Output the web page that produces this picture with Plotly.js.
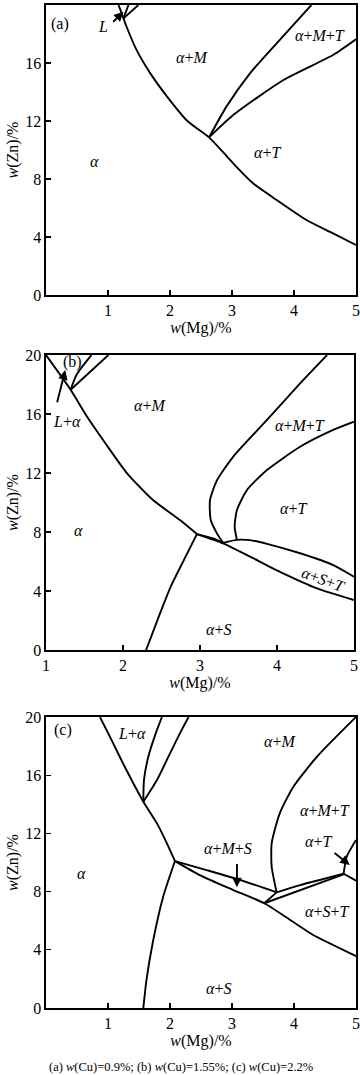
<!DOCTYPE html>
<html><head><meta charset="utf-8">
<script src="https://cdn.plot.ly/plotly-3.0.1.min.js"></script>
<style>html,body{margin:0;padding:0;background:#fff}</style>
</head><body><div id="chart" style="width:360px;height:1075px"></div>
<script>
// ---- Panel (a): w(Cu)=0.9% ----
var a_alpha_x = [1.17, 1.25, 1.30, 1.46, 1.68, 1.95, 2.28, 2.63, 2.91, 3.08, 3.34, 3.72, 4.20, 4.63, 5.0];
var a_alpha_y = [20, 19.08, 18.5, 16.9, 15.3, 13.7, 12.0, 10.87, 9.6, 8.8, 7.70, 6.55, 5.17, 4.25, 3.45];
var a_mt_x = [2.63, 2.91, 3.29, 3.72, 4.28];
var a_mt_y = [10.87, 12.99, 15.29, 17.36, 20];
var a_t_x = [2.63, 3.02, 3.83, 4.63, 5.0];
var a_t_y = [10.87, 12.41, 14.83, 16.55, 17.63];
var a_top1_x = [1.25, 1.33];
var a_top1_y = [19.08, 20];
var a_top2_x = [1.25, 1.49];
var a_top2_y = [19.08, 20];

// ---- Panel (b): w(Cu)=1.55% ----
var b_alpha_x = [1.0, 1.32, 1.53, 1.78, 2.05, 2.39, 2.74, 2.96];
var b_alpha_y = [20, 17.65, 15.85, 13.95, 12.0, 10.17, 8.81, 7.86];
var b_low_x = [2.96, 3.30, 3.65, 4.08, 4.52, 5.0];
var b_low_y = [7.86, 7.23, 6.33, 5.20, 4.18, 3.39];
var b_sliver_x = [2.96, 3.17, 3.30];
var b_sliver_y = [7.86, 7.57, 7.27];
var b_s_x = [2.96, 2.80, 2.62, 2.46, 2.30];
var b_s_y = [7.86, 6.2, 4.3, 2.2, 0];
var b_mt_x = [4.65, 4.30, 3.87, 3.43, 3.22, 3.13, 3.14, 3.22, 3.30];
var b_mt_y = [20, 18.08, 15.6, 13.1, 11.5, 10.17, 8.81, 7.91, 7.27];
var b_t_x = [5.0, 4.73, 4.30, 3.87, 3.61, 3.48, 3.45, 3.48];
var b_t_y = [15.48, 14.92, 13.78, 12.2, 10.85, 9.49, 8.36, 7.47];
var b_st_x = [3.30, 3.48, 3.65, 3.87, 4.30, 4.73, 5.0];
var b_st_y = [7.27, 7.47, 7.45, 7.2, 6.56, 5.76, 4.97];
var b_top1_x = [1.32, 1.40, 1.59];
var b_top1_y = [17.65, 18.7, 20];
var b_top2_x = [1.32, 1.81];
var b_top2_y = [17.65, 20];

// ---- Panel (c): w(Cu)=2.2% ----
var c_alpha_x = [0.87, 1.03, 1.27, 1.57, 1.79, 1.95, 2.08];
var c_alpha_y = [20, 18.65, 16.58, 14.18, 12.69, 11.32, 10.1];
var c_low_x = [2.08, 2.48, 3.02, 3.52, 3.94, 4.31, 4.63, 5.0];
var c_low_y = [10.1, 9.14, 8.11, 7.2, 6.05, 5.02, 4.33, 3.57];
var c_up_x = [2.08, 2.59, 3.13, 3.72];
var c_up_y = [10.1, 9.48, 8.80, 7.95];
var c_s_x = [2.08, 1.89, 1.73, 1.62, 1.57];
var c_s_y = [10.1, 7.65, 4.67, 1.92, 0];
var c_mt_x = [5.0, 4.37, 3.99, 3.77, 3.64, 3.64, 3.72];
var c_mt_y = [20, 17.27, 15.21, 13.38, 11.32, 9.71, 7.95];
var c_ab_x = [3.52, 3.72];
var c_ab_y = [7.2, 7.95];
var c_ac_x = [3.72, 4.10, 4.80];
var c_ac_y = [7.95, 8.45, 9.23];
var c_bc_x = [3.52, 4.80];
var c_bc_y = [7.2, 9.18];
var c_cr_x = [4.80, 5.0];
var c_cr_y = [9.23, 8.75];
var c_cu_x = [4.80, 4.85, 5.0];
var c_cu_y = [9.23, 10.4, 11.55];
var c_top1_x = [1.57, 1.58, 1.65, 1.76, 1.87];
var c_top1_y = [14.18, 15.67, 17.27, 18.76, 20];
var c_top2_x = [1.57, 1.79, 2.0, 2.16, 2.30];
var c_top2_y = [14.18, 15.67, 17.5, 18.88, 20];

// tick labels
var xTicksA = [0, 1, 2, 3, 4, 5];
var xTextA = ['', '1', '2', '3', '4', '5'];
var xTicksB = [1, 2, 3, 4, 5];
var xTextB = ['1', '2', '3', '4', '5'];
var yTicks = [0, 4, 8, 12, 16, 20];
var yText = ['0', '4', '8', '12', '16', '20'];

var FONT = 'Liberation Serif';
var traces = [];
function line(x, y, ax, smooth) {
  traces.push({
    type: 'scatter', mode: 'lines', x: x, y: y,
    xaxis: ax === 1 ? 'x' : 'x' + ax, yaxis: ax === 1 ? 'y' : 'y' + ax,
    line: {color: '#000', width: 1.9, shape: smooth ? 'spline' : 'linear', smoothing: 0.6},
    hoverinfo: 'skip', showlegend: false
  });
}
line(a_alpha_x, a_alpha_y, 1, true);
line(a_mt_x, a_mt_y, 1, true);
line(a_t_x, a_t_y, 1, true);
line(a_top1_x, a_top1_y, 1, false);
line(a_top2_x, a_top2_y, 1, false);

line(b_alpha_x, b_alpha_y, 2, true);
line(b_low_x, b_low_y, 2, true);
line(b_sliver_x, b_sliver_y, 2, true);
line(b_s_x, b_s_y, 2, true);
line(b_mt_x, b_mt_y, 2, true);
line(b_t_x, b_t_y, 2, true);
line(b_st_x, b_st_y, 2, true);
line(b_top1_x, b_top1_y, 2, true);
line(b_top2_x, b_top2_y, 2, false);

line(c_alpha_x, c_alpha_y, 3, true);
line(c_low_x, c_low_y, 3, true);
line(c_up_x, c_up_y, 3, true);
line(c_s_x, c_s_y, 3, true);
line(c_mt_x, c_mt_y, 3, true);
line(c_ab_x, c_ab_y, 3, false);
line(c_ac_x, c_ac_y, 3, true);
line(c_bc_x, c_bc_y, 3, false);
line(c_cr_x, c_cr_y, 3, false);
line(c_cu_x, c_cu_y, 3, true);
line(c_top1_x, c_top1_y, 3, true);
line(c_top2_x, c_top2_y, 3, true);

function axis(range, tv, tt, dom, anchor, title) {
  var o = {
    range: range, domain: dom, anchor: anchor, tickvals: tv, ticktext: tt,
    showline: true, mirror: true, linecolor: '#000', linewidth: 1.6,
    ticks: 'inside', ticklen: 5, tickcolor: '#000', tickwidth: 1.3,
    showgrid: false, zeroline: false, fixedrange: true,
    tickfont: {family: FONT, size: 16, color: '#000'}
  };
  if (title) o.title = {text: title, font: {family: FONT, size: 16, color: '#000'}, standoff: 2};
  return o;
}
var XT = '<i>w</i>(Mg)/%', YT = '<i>w</i>(Zn)/%';

function lab(txt, x, y, ax, extra) {
  var o = {text: txt, x: x, y: y, xref: ax === 1 ? 'x' : 'x' + ax, yref: ax === 1 ? 'y' : 'y' + ax,
    showarrow: false, font: {family: FONT, size: 16, color: '#000'}};
  if (extra) for (var k in extra) o[k] = extra[k];
  return o;
}
function arrow(x0, y0, x1, y1, ax) {
  var xr = ax === 1 ? 'x' : 'x' + ax, yr = ax === 1 ? 'y' : 'y' + ax;
  return {x: x1, y: y1, ax: x0, ay: y0, xref: xr, yref: yr, axref: xr, ayref: yr,
    text: '', showarrow: true, arrowhead: 2, arrowsize: 1, arrowwidth: 1.9, arrowcolor: '#000'};
}

var annotations = [
  lab('(a)', 0.23, 18.7, 1),
  lab('<i>L</i>', 0.92, 18.55, 1),
  lab('<i>α</i>+<i>M</i>', 2.35, 16.4, 1),
  lab('<i>α</i>+<i>M</i>+<i>T</i>', 4.42, 17.9, 1),
  lab('<i>α</i>+<i>T</i>', 3.58, 9.8, 1),
  lab('<i>α</i>', 0.79, 9.2, 1),
  arrow(1.06, 18.74, 1.25, 19.54, 1),

  lab('(b)', 1.34, 19.5, 2),
  lab('<i>L</i>+<i>α</i>', 1.27, 15.5, 2),
  lab('<i>α</i>+<i>M</i>', 2.35, 16.6, 2),
  lab('<i>α</i>+<i>M</i>+<i>T</i>', 4.30, 15.25, 2),
  lab('<i>α</i>+<i>T</i>', 4.21, 9.6, 2),
  lab('<i>α</i>', 1.42, 8.1, 2),
  lab('<i>α</i>+<i>S</i>+<i>T</i>', 4.60, 4.75, 2, {textangle: 20}),
  lab('<i>α</i>+<i>S</i>', 3.24, 1.36, 2),
  arrow(1.14, 16.7, 1.25, 18.98, 2),

  lab('(c)', 0.28, 19.1, 3),
  lab('<i>L</i>+<i>α</i>', 1.38, 18.9, 3),
  lab('<i>α</i>+<i>M</i>', 3.77, 18.3, 3),
  lab('<i>α</i>+<i>M</i>+<i>T</i>', 4.5, 13.6, 3),
  lab('<i>α</i>+<i>T</i>', 4.39, 11.43, 3),
  lab('<i>α</i>+<i>M</i>+<i>S</i>', 2.94, 10.97, 3),
  lab('<i>α</i>', 0.58, 9.26, 3),
  lab('<i>α</i>+<i>S</i>+<i>T</i>', 4.53, 6.62, 3),
  lab('<i>α</i>+<i>S</i>', 2.78, 1.35, 3),
  arrow(3.08, 10.0, 3.08, 8.3, 3),
  arrow(4.63, 10.74, 4.90, 9.83, 3),

  {text: '(a) <i>w</i>(Cu)=0.9%; (b) <i>w</i>(Cu)=1.55%; (c) <i>w</i>(Cu)=2.2%',
   xref: 'paper', yref: 'paper', x: 0.435, y: -0.0588, xanchor: 'center', yanchor: 'middle',
   showarrow: false, font: {family: FONT, size: 12.5, color: '#000'}}
];

var layout = {
  width: 360, height: 1075,
  margin: {l: 46, r: 4, t: 5, b: 67},
  paper_bgcolor: '#fff', plot_bgcolor: '#fff',
  showlegend: false,
  xaxis: axis([0, 5], xTicksA, xTextA, [0, 1], 'y', XT),
  yaxis: axis([0, 20], yTicks, yText, [0.7109, 1], 'x', YT),
  xaxis2: axis([1, 5], xTicksB, xTextB, [0, 0.9935], 'y2', XT),
  yaxis2: axis([0, 20], yTicks, yText, [0.3569, 0.6510], 'x2', YT),
  xaxis3: axis([0, 5], xTicksA, xTextA, [0, 1], 'y3', XT),
  yaxis3: axis([0, 20], yTicks, yText, [0, 0.2901], 'x3', YT),
  annotations: annotations
};

Plotly.newPlot('chart', traces, layout, {staticPlot: true, displayModeBar: false});
</script></body></html>
